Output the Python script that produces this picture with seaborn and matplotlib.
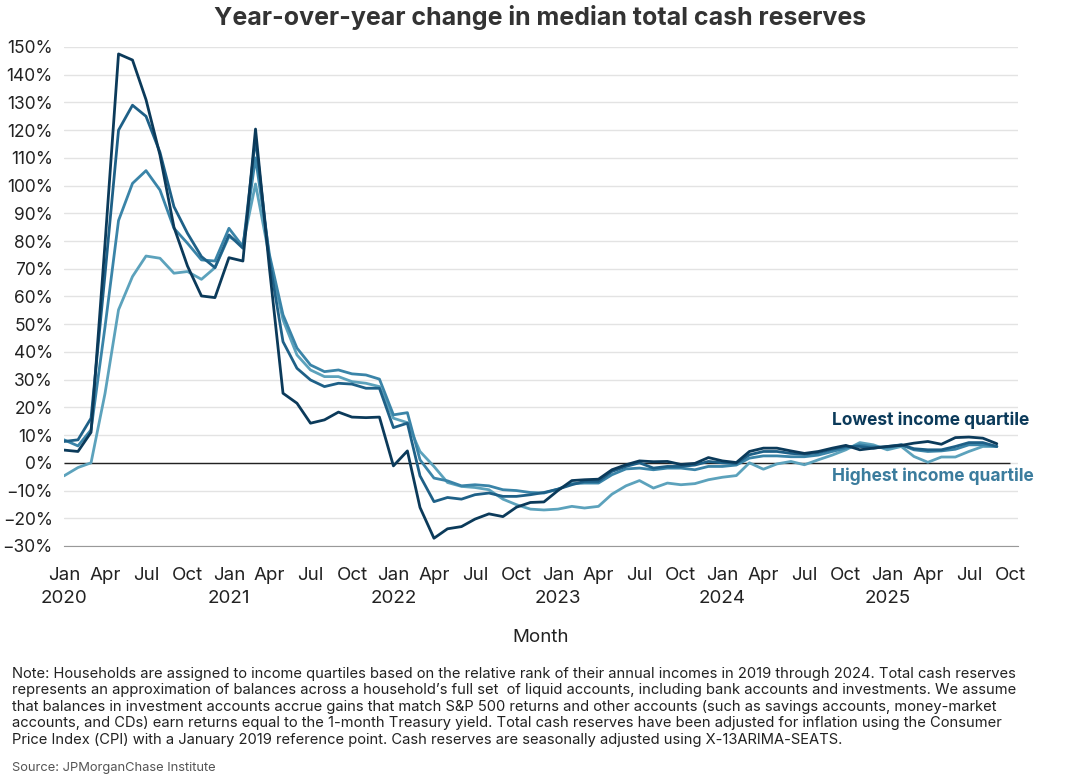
import numpy as np
import pandas as pd
import matplotlib
matplotlib.use('Agg')
import matplotlib.pyplot as plt
import seaborn as sns

months = pd.date_range('2020-01-01', '2025-09-01', freq='MS')

lowest = [4.6, 4.1, 11.0, 79.0, 147.5, 145.3, 131.0, 111.0, 85.0, 71.0, 60.2, 59.6,
          74.0, 72.8, 120.4, 70.0, 25.1, 21.5, 14.3, 15.5, 18.3, 16.5, 16.3, 16.5,
          -1.1, 4.3, -16.1, -27.2, -23.8, -23.0, -20.3, -18.4, -19.4, -16.0, -14.3, -14.1,
          -10.0, -6.4, -6.1, -5.9, -2.5, -0.7, 0.7, 0.4, 0.5, -0.6, -0.2, 1.9,
          0.7, 0.1, 4.1, 5.3, 5.3, 4.3, 3.4, 4.1, 5.3, 6.3, 4.7, 5.3,
          5.9, 6.3, 7.1, 7.7, 6.7, 9.1, 9.3, 8.9, 6.9]
second = [7.7, 8.3, 16.1, 68.0, 120.0, 129.0, 125.0, 112.0, 92.4, 82.8, 74.4, 70.4,
          82.2, 77.4, 117.0, 73.0, 43.7, 34.1, 29.9, 27.5, 28.7, 28.4, 26.9, 26.9,
          12.7, 14.3, -4.7, -14.0, -12.5, -13.1, -11.5, -10.9, -12.1, -12.1, -11.5, -10.7,
          -9.5, -7.9, -6.7, -6.7, -3.1, -1.3, 0.0, -1.9, -1.3, -1.3, -0.8, 0.5,
          0.0, -0.2, 2.9, 4.1, 4.1, 3.4, 3.1, 3.7, 4.9, 5.9, 5.9, 5.3,
          5.9, 6.5, 5.1, 4.7, 4.7, 5.9, 7.3, 7.3, 5.9]
third = [8.3, 6.1, 11.9, 49.0, 87.4, 100.8, 105.4, 98.4, 84.6, 79.2, 73.2, 72.8,
         84.6, 78.0, 110.0, 75.0, 53.4, 41.4, 35.3, 32.9, 33.5, 32.1, 31.7, 30.2,
         17.3, 18.1, 1.1, -5.5, -6.5, -8.3, -7.9, -8.3, -9.7, -10.0, -10.7, -10.9,
         -9.5, -7.5, -7.3, -7.3, -4.3, -2.2, -1.9, -2.5, -1.9, -1.9, -2.5, -1.3,
         -1.3, -0.8, 1.7, 2.5, 2.5, 2.2, 2.2, 2.8, 4.1, 5.3, 6.5, 5.9,
         5.5, 6.5, 4.7, 4.1, 4.3, 4.9, 6.5, 6.5, 5.9]
highest = [-4.7, -1.7, 0.0, 25.0, 55.2, 67.2, 74.6, 73.8, 68.4, 69.0, 66.2, 70.4,
           81.6, 78.6, 100.6, 74.0, 51.6, 38.9, 33.5, 31.1, 31.1, 29.3, 28.7, 27.5,
           16.1, 14.5, 4.1, -1.3, -7.1, -8.5, -8.9, -9.7, -13.1, -15.1, -16.7, -17.0,
           -16.7, -15.7, -16.3, -15.7, -11.3, -8.3, -6.4, -9.1, -7.3, -7.9, -7.5, -6.1,
           -5.2, -4.6, 0.0, -2.3, -0.4, 0.5, -0.7, 1.1, 2.8, 4.7, 7.3, 6.5,
           4.7, 5.9, 2.3, 0.2, 2.1, 2.1, 4.1, 5.9, 5.9]

quartiles = ['Lowest income quartile', 'Second income quartile',
             'Third income quartile', 'Highest income quartile']
colors = ['#0b3a5a', '#1e6087', '#3a84a8', '#5ca2bc']

df = pd.DataFrame({'month': months, quartiles[0]: lowest, quartiles[1]: second,
                   quartiles[2]: third, quartiles[3]: highest})
long = df.melt(id_vars='month', var_name='quartile', value_name='change')

sns.set_style('white')
plt.rcParams['font.family'] = ['Inter', 'DejaVu Sans']

fig = plt.figure(figsize=(10.7, 7.81), dpi=100)
ax = fig.add_axes([64 / 1070, 1 - 546 / 781, 954 / 1070, 499 / 781])

sns.lineplot(data=long, x='month', y='change', hue='quartile', hue_order=quartiles[::-1],
             palette=dict(zip(quartiles, colors)), linewidth=2, legend=False, ax=ax)

ax.set_ylim(-30, 150)
ax.set_xlim(pd.Timestamp('2020-01-01'), pd.Timestamp('2025-10-18'))
ax.set_yticks(np.arange(-30, 151, 10))
ax.set_yticklabels([f'{v}%'.replace('-', '\u2212') for v in range(-30, 151, 10)])
ax.yaxis.grid(True, color='#e3e3e3', linewidth=1)
ax.set_axisbelow(True)
ax.hlines(0, pd.Timestamp('2020-01-01'), pd.Timestamp('2025-10-01'), color='#222222', linewidth=1, zorder=1)

ticks = pd.date_range('2020-01-01', '2025-10-01', freq='QS')
ax.set_xticks(ticks)
ax.set_xticklabels([t.strftime('%b\n%Y') if t.month == 1 else t.strftime('%b') for t in ticks])

for s in ['top', 'right', 'left']:
    ax.spines[s].set_visible(False)
ax.spines['bottom'].set_color('#999999')
ax.tick_params(axis='x', length=6, width=1, color='#333333', labelsize=13.5, pad=9, labelcolor='#222222')
ax.tick_params(axis='y', length=0, labelsize=12.5, pad=8, labelcolor='#222222')
for lab in ax.get_xticklabels():
    lab.set_linespacing(1.45)

ax.set_xlabel('Month', fontsize=13.5, color='#222222', labelpad=16)
ax.set_ylabel('')

ax.text(pd.Timestamp('2024-09-01'), 15.5, 'Lowest income quartile', color='#0b3a5a',
        fontsize=12.5, fontweight='bold', va='center', ha='left')
ax.text(pd.Timestamp('2024-09-01'), -4.8, 'Highest income quartile', color='#3b7c9d',
        fontsize=12.5, fontweight='bold', va='center', ha='left')

fig.text(0.505, 0.977, 'Year-over-year change in median total cash reserves', ha='center', va='center',
         fontsize=18, fontweight='bold', color='#333333')

note = ("Note: Households are assigned to income quartiles based on the relative rank of their annual incomes in 2019 through 2024. Total cash reserves\n"
        "represents an approximation of balances across a household\u2019s full set  of liquid accounts, including bank accounts and investments. We assume\n"
        "that balances in investment accounts accrue gains that match S&P 500 returns and other accounts (such as savings accounts, money-market\n"
        "accounts, and CDs) earn returns equal to the 1-month Treasury yield. Total cash reserves have been adjusted for inflation using the Consumer\n"
        "Price Index (CPI) with a January 2019 reference point. Cash reserves are seasonally adjusted using X-13ARIMA-SEATS.")
fig.text(12 / 1070, 1 - 667 / 781, note, ha='left', va='top', fontsize=10.6, color='#222222', linespacing=1.22)
fig.text(12 / 1070, 1 - 768 / 781, 'Source: JPMorganChase Institute', ha='left', va='center',
         fontsize=9.3, color='#555555')

fig.savefig('out.png', dpi=100)
